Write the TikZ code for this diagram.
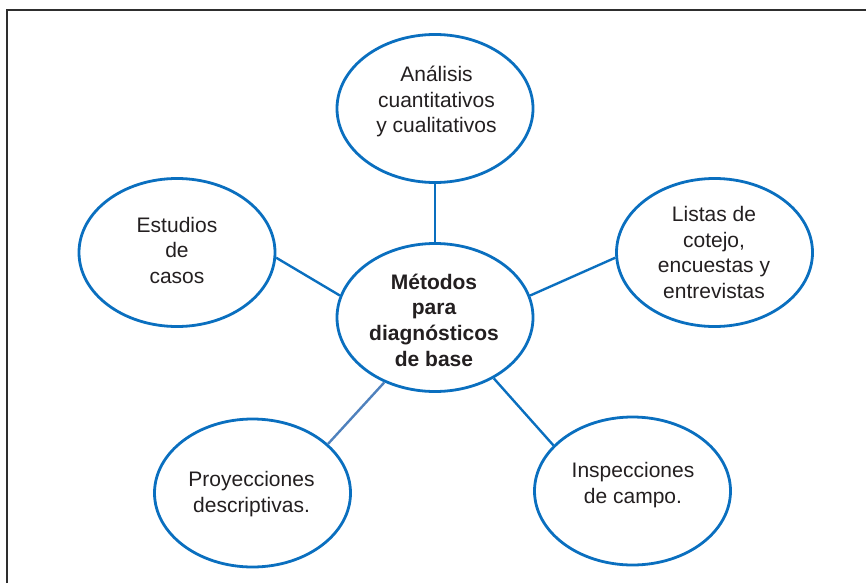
\documentclass[tikz,border=0pt]{standalone}
\usepackage{fontspec}
\setmainfont{Liberation Sans}
\usetikzlibrary{shapes.geometric}
\definecolor{eblue}{HTML}{0A6FBF}
\definecolor{lblue}{HTML}{4F81BD}
\definecolor{txtc}{HTML}{231F20}
\definecolor{framec}{HTML}{2E2E2E}
\begin{document}
\begin{tikzpicture}[x=1pt,y=-1pt,
  bubble/.style={ellipse,draw=eblue,line width=2.8pt,minimum width=196pt,minimum height=148pt,inner sep=0pt},
  txt/.style={align=center,text=txtc,font=\fontsize{21}{25.5}\selectfont,inner sep=0pt},
  btxt/.style={txt,font=\fontsize{21}{25.7}\selectfont\bfseries},
  conn/.style={draw=eblue,line width=2.4pt},
  connl/.style={draw=lblue,line width=2.4pt},
  framel/.style={draw=framec,line width=2pt}]
\useasboundingbox (0,0) rectangle (866,583);
\coordinate (f1) at (7,583);
\coordinate (f2) at (7,10);
\coordinate (f3) at (866,10);
\draw[framel] (f1) -- (f2) -- (f3);
\node[bubble] (c) at (435,317.5) {};
\node[bubble] (t) at (435,108.5) {};
\node[bubble] (l) at (177,252.5) {};
\node[bubble] (r) at (714.5,252.5) {};
\node[bubble] (bl) at (252.5,493) {};
\node[bubble] (br) at (632.5,491) {};
\node[btxt] (ct) at (434,320) {Métodos\\para\\diagnósticos\\de base};
\node[txt] (tt) at (436.5,101.5) {Análisis\\cuantitativos\\y cualitativos};
\node[txt] (lt) at (177,250) {Estudios\\de\\casos};
\node[txt] (rt) at (714,252.5) {Listas de\\cotejo,\\encuestas y\\entrevistas};
\node[txt] (blt) at (251.5,494) {Proyecciones\\descriptivas.};
\node[txt] (brt) at (633,485) {Inspecciones\\de campo.};
\draw[conn] (c.90) -- (t.-90);
\draw[conn] (c.167) -- (l.-3.7);
\draw[conn] (c.13.4) -- (r.-177);
\draw[connl] (c.-128.3) -- (bl.33);
\draw[conn] (c.-46.5) -- (br.150.8);
\end{tikzpicture}
\end{document}
